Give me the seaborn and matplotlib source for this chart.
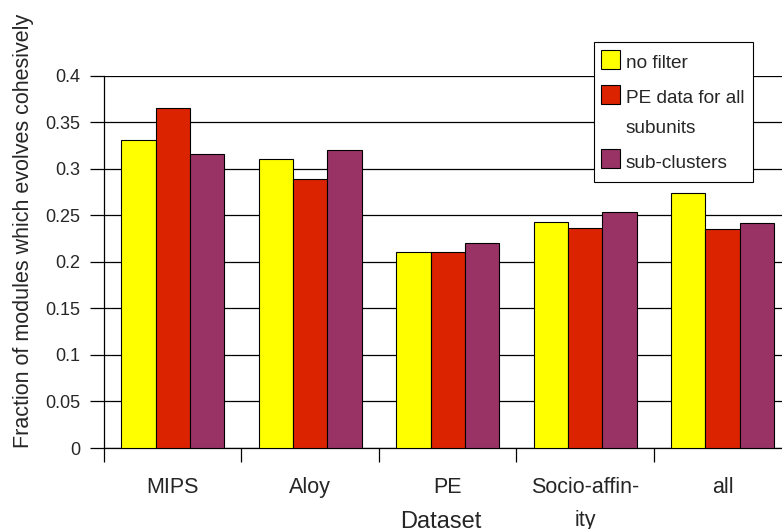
import matplotlib
matplotlib.use("Agg")
import matplotlib.pyplot as plt
from matplotlib.patches import Rectangle
import seaborn as sns
import pandas as pd
import numpy as np

datasets = ["MIPS", "Aloy", "PE", "Socio-affin-\nity", "all"]
series = ["no filter", "PE data for all\nsubunits", "sub-clusters"]
no_filter = [0.331, 0.310, 0.210, 0.243, 0.274]
pe_data = [0.365, 0.289, 0.210, 0.236, 0.235]
sub_clusters = [0.316, 0.320, 0.220, 0.254, 0.242]
colors = ["#FFFF00", "#DC2300", "#993366"]
yticks = [0, 0.05, 0.1, 0.15, 0.2, 0.25, 0.3, 0.35, 0.4]

rows = []
for s, vals in zip(series, [no_filter, pe_data, sub_clusters]):
    for d, v in zip(datasets, vals):
        rows.append({"Dataset": d, "Series": s, "Value": v})
df = pd.DataFrame(rows)

sns.set_theme(style="white")
plt.rcParams["font.family"] = ["Liberation Sans", "DejaVu Sans"]

W, H = 782, 529
fig = plt.figure(figsize=(W / 100, H / 100), dpi=100)
ax = fig.add_axes([0.133, 0.1531, 0.879, 0.704])

sns.barplot(data=df, x="Dataset", y="Value", hue="Series", order=datasets,
            hue_order=series, palette=colors, saturation=1, width=0.75,
            errorbar=None, edgecolor="black", linewidth=0.8, ax=ax, zorder=3)

ax.set_ylim(0, 0.4)
ax.set_xlim(-0.5, 4.5)
ax.set_yticks(yticks)
ax.set_yticklabels([f"{t:g}" for t in yticks], fontsize=13)
ax.yaxis.grid(True, color="black", linewidth=0.9, zorder=0)
ax.set_axisbelow(True)
ax.tick_params(axis="y", direction="out", length=10, width=0.9, color="black",
               pad=7, left=True)

ax.set_xticks(range(len(datasets)))
ax.set_xticklabels(datasets, fontsize=15.5)
for lbl in ax.get_xticklabels():
    lbl.set_linespacing(1.75)
ax.tick_params(axis="x", which="major", length=0, pad=21)
ax.set_xticks(np.arange(-0.5, len(datasets), 1.0), minor=True)
ax.tick_params(axis="x", which="minor", direction="out", length=10, width=0.9,
               color="black", bottom=True)

for side in ["top", "right"]:
    ax.spines[side].set_visible(False)
for side in ["left", "bottom"]:
    ax.spines[side].set_color("black")
    ax.spines[side].set_linewidth(0.9)

ax.set_xlabel("Dataset", fontsize=17)
ax.xaxis.set_label_coords(0.49, -0.168)
ax.set_ylabel("Fraction of modules which evolves cohesively", fontsize=15.5)
ax.yaxis.set_label_coords(-0.1025, 0.583)

ax.get_legend().remove()

# Legend box drawn in figure pixel coordinates (from top-left)
def fx(x):
    return x / W

def fy(y):
    return 1 - y / H

fig.patches.append(Rectangle((fx(594), fy(181.7)), 159 / W, 140 / H,
                             transform=fig.transFigure, facecolor="white",
                             edgecolor="black", linewidth=0.8, zorder=10))
handle_tops = [49.5, 85.0, 148.5]
text_centers = [63.5, 113.5, 163.0]
for label, c, ht, tc in zip(series, colors, handle_tops, text_centers):
    fig.patches.append(Rectangle((fx(601), fy(ht + 19)), 19 / W, 19 / H,
                                 transform=fig.transFigure, facecolor=c,
                                 edgecolor="black", linewidth=0.8, zorder=11))
    fig.text(fx(626), fy(tc), label, fontsize=13.7, ha="left", va="center",
             linespacing=1.95, zorder=12)

fig.savefig("out.png", dpi=100)
